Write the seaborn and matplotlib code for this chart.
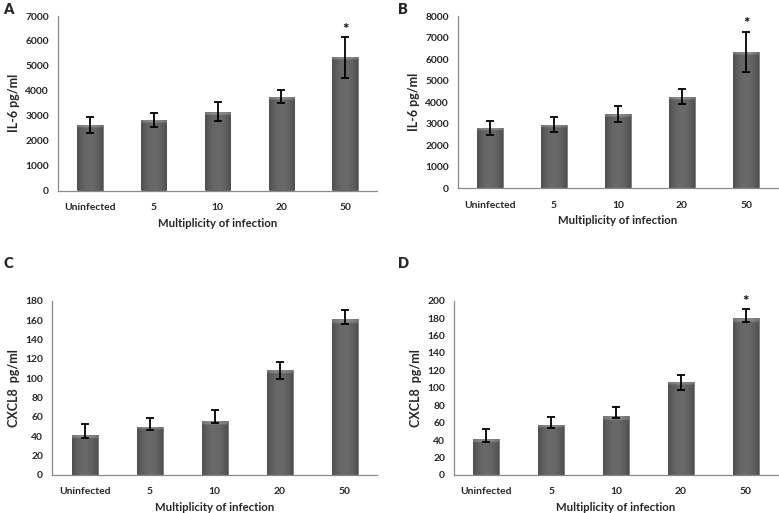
import matplotlib
matplotlib.use("Agg")
import matplotlib.pyplot as plt
import seaborn as sns
import numpy as np
import pandas as pd

categories = ["Uninfected", "5", "10", "20", "50"]

# Panel A: IL-6
a_vals = [2610, 2830, 3135, 3765, 5340]
a_hi = [2937, 3124, 3551, 4032, 6141]
a_lo = [2296, 2563, 2804, 3525, 4499]
# Panel B: IL-6
b_vals = [2790, 2940, 3440, 4260, 6320]
b_hi = [3140, 3300, 3820, 4610, 7260]
b_lo = [2460, 2600, 3060, 3900, 5420]
# Panel C: CXCL8
c_vals = [41.3, 49.9, 55.5, 108.8, 160.8]
c_hi = [53.0, 59.2, 66.8, 116.4, 170.1]
c_lo = [38.2, 46.2, 53.7, 99.2, 156.0]
# Panel D: CXCL8
d_vals = [41.3, 57.4, 67.3, 107.1, 179.7]
d_hi = [53.2, 66.5, 78.4, 114.3, 190.0]
d_lo = [37.9, 53.9, 65.4, 97.1, 175.5]

stars_a = [4]
stars_b = [4]
stars_c = []
stars_d = [4]

panels = [
    ("A", a_vals, a_lo, a_hi, stars_a, "IL-6 pg/ml", 7000, 1000),
    ("B", b_vals, b_lo, b_hi, stars_b, "IL-6 pg/ml", 8000, 1000),
    ("C", c_vals, c_lo, c_hi, stars_c, "CXCL8  pg/ml", 180, 20),
    ("D", d_vals, d_lo, d_hi, stars_d, "CXCL8  pg/ml", 200, 20),
]

sns.set_style("white")
plt.rcParams['font.family'] = ['Lato', 'DejaVu Sans']

W, H = 779, 513
fig = plt.figure(figsize=(W / 100, H / 100), dpi=100)

# axes rectangles in pixels: left, right, top, bottom
rects = [
    (58, 377, 16, 190.5),
    (458, 778, 16, 188.3),
    (52, 377, 300.7, 475),
    (454, 778, 300.7, 475),
]
label_pos = [(3, 9), (398, 9), (3, 264), (398, 264)]

grey = "#8a8a8a"
barcol = "#5e5e5e"

# horizontal shading profile for the bars (dark edges, lighter middle)
prof = np.linspace(-1, 1, 64)
shade = 0.31 + 0.10 * (1 - prof ** 2)  # grey level


def shade_bars(ax, ymax):
    for p in list(ax.patches):
        x0, y0 = p.get_x(), p.get_y()
        w, h = p.get_width(), p.get_height()
        ax_h_px = ax.bbox.height
        band = 3.0 / ax_h_px * ymax  # ~3 px top band
        rows = 80
        img = np.tile(shade, (rows, 1))
        yy = np.linspace(y0 + h, y0, rows)
        top = (y0 + h - yy) < band
        img[top, :] = img[top, :] + 0.13
        rgb = np.dstack([img, img, img])
        im = ax.imshow(rgb, extent=(x0, x0 + w, y0, y0 + h), aspect="auto",
                       interpolation="bilinear", zorder=p.get_zorder() + 0.1)
        im.set_clip_path(p)


for (name, vals, lo, hi, stars, ylab, ymax, step), (l, r, t, b), (lx, ly) in zip(panels, rects, label_pos):
    ax = fig.add_axes([l / W, 1 - b / H, (r - l) / W, (b - t) / H])
    df = pd.DataFrame({"moi": categories, "val": vals})
    sns.barplot(data=df, x="moi", y="val", color=barcol, width=0.4,
                errorbar=None, ax=ax, saturation=1,
                edgecolor="#808080", linewidth=0.7)
    x = np.arange(len(categories))
    ax.set_xlim(-0.5, len(categories) - 0.5)
    ax.set_ylim(0, ymax)
    shade_bars(ax, ymax)
    yerr = np.array([np.array(vals) - np.array(lo), np.array(hi) - np.array(vals)])
    ax.errorbar(x, vals, yerr=yerr, fmt="none", ecolor="black",
                elinewidth=1.3, capsize=3, capthick=1.3, zorder=5)
    for s in stars:
        ax.text(x[s], hi[s] + ymax * 0.045, "*", ha="center", va="center",
                fontsize=11, fontweight="bold", color="black")
    ax.set_xlim(-0.5, len(categories) - 0.5)
    ax.set_ylim(0, ymax)
    ax.set_yticks(np.arange(0, ymax + step / 2, step))
    ax.set_xticks(np.arange(-0.5, len(categories), 1.0), minor=True)
    ax.tick_params(axis="x", which="major", length=0, pad=9, labelsize=7.4)
    ax.tick_params(axis="x", which="minor", length=3.5, color=grey, direction="out", width=0.8)
    ax.tick_params(axis="y", length=3.5, color=grey, direction="out", width=0.8, labelsize=7.4, pad=3)
    for lab in ax.get_xticklabels() + ax.get_yticklabels():
        lab.set_fontweight("bold")
    sns.despine(ax=ax)
    for sp in ("left", "bottom"):
        ax.spines[sp].set_color(grey)
        ax.spines[sp].set_linewidth(0.9)
    ax.set_xlabel("Multiplicity of infection", fontsize=8.2, fontweight="bold", labelpad=4)
    ax.set_ylabel(ylab, fontsize=9, fontweight="bold", labelpad=4)
    fig.text(lx / W, 1 - ly / H, name, fontsize=10.5, fontweight="heavy",
             ha="left", va="center")

fig.savefig("out.png", dpi=100, facecolor="white")
